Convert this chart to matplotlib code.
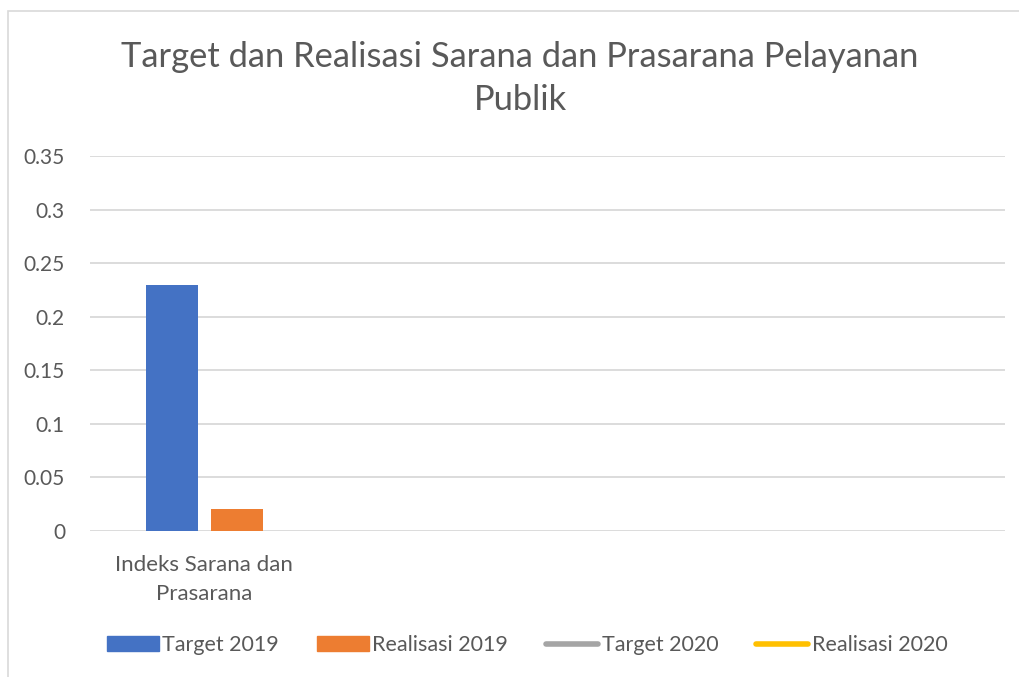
import numpy as np
import matplotlib.pyplot as plt
from matplotlib.patches import Patch, Rectangle
from matplotlib.lines import Line2D

plt.rcParams['font.family'] = ['Lato', 'DejaVu Sans']

categories = ["Indeks Sarana dan\nPrasarana", "", "", ""]
target_2019 = [0.23, np.nan, np.nan, np.nan]
realisasi_2019 = [0.021, np.nan, np.nan, np.nan]
target_2020 = [np.nan, np.nan, np.nan, np.nan]
realisasi_2020 = [np.nan, np.nan, np.nan, np.nan]
yticks = [0, 0.05, 0.1, 0.15, 0.2, 0.25, 0.3, 0.35]
ylabels = ["0", "0.05", "0.1", "0.15", "0.2", "0.25", "0.3", "0.35"]

blue = "#4472C4"
orange = "#ED7D31"
gray = "#A5A5A5"
yellow = "#FFC000"
txt = "#595959"

fig = plt.figure(figsize=(10.2, 6.77), dpi=100)
ax = fig.add_axes([90/1020, 1-531/677, 915/1020, 375/677])

x = np.arange(len(categories))
w = 0.227
ax.bar(x - 0.142, target_2019, w, color=blue, zorder=3)
ax.bar(x + 0.142, realisasi_2019, w, color=orange, zorder=3)
ax.plot(x, target_2020, color=gray, lw=3)
ax.plot(x, realisasi_2020, color=yellow, lw=3)

ax.set_xlim(-0.5, len(categories) - 0.5)
ax.set_ylim(0, 0.35)
ax.set_yticks(yticks)
ax.set_yticklabels(ylabels, color=txt, fontsize=15)
ax.set_xticks(x)
ax.set_xticklabels(categories, color=txt, fontsize=16, linespacing=1.6)
ax.tick_params(length=0, axis='y', pad=18)
ax.tick_params(length=0, axis='x', pad=17)
ax.grid(axis='y', color='#D9D9D9', lw=1.3, zorder=0)
for s in ax.spines.values():
    s.set_visible(False)

fig.text(520/1020, 1-78.5/677, "Target dan Realisasi Sarana dan Prasarana Pelayanan\nPublik",
         ha='center', va='center', fontsize=24.8, color=txt, linespacing=1.42)

handles = [Patch(color=blue), Patch(color=orange),
           Line2D([], [], color=gray, lw=4, solid_capstyle='round'),
           Line2D([], [], color=yellow, lw=4, solid_capstyle='round')]
fig.legend(handles, ["Target 2019", "Realisasi 2019", "Target 2020", "Realisasi 2020"],
           loc='center', bbox_to_anchor=(527/1020, 1-645/677), ncol=4, frameon=False,
           fontsize=15.5, labelcolor=txt, handlelength=2.42, handleheight=0.65,
           handletextpad=0.15, columnspacing=1.77)

fig.patches.append(Rectangle((8/1020, -0.1), 1.2, 1-11/677+0.1, transform=fig.transFigure,
                             fill=False, edgecolor='#D9D9D9', lw=1.2))

fig.savefig("out.png", dpi=100)
